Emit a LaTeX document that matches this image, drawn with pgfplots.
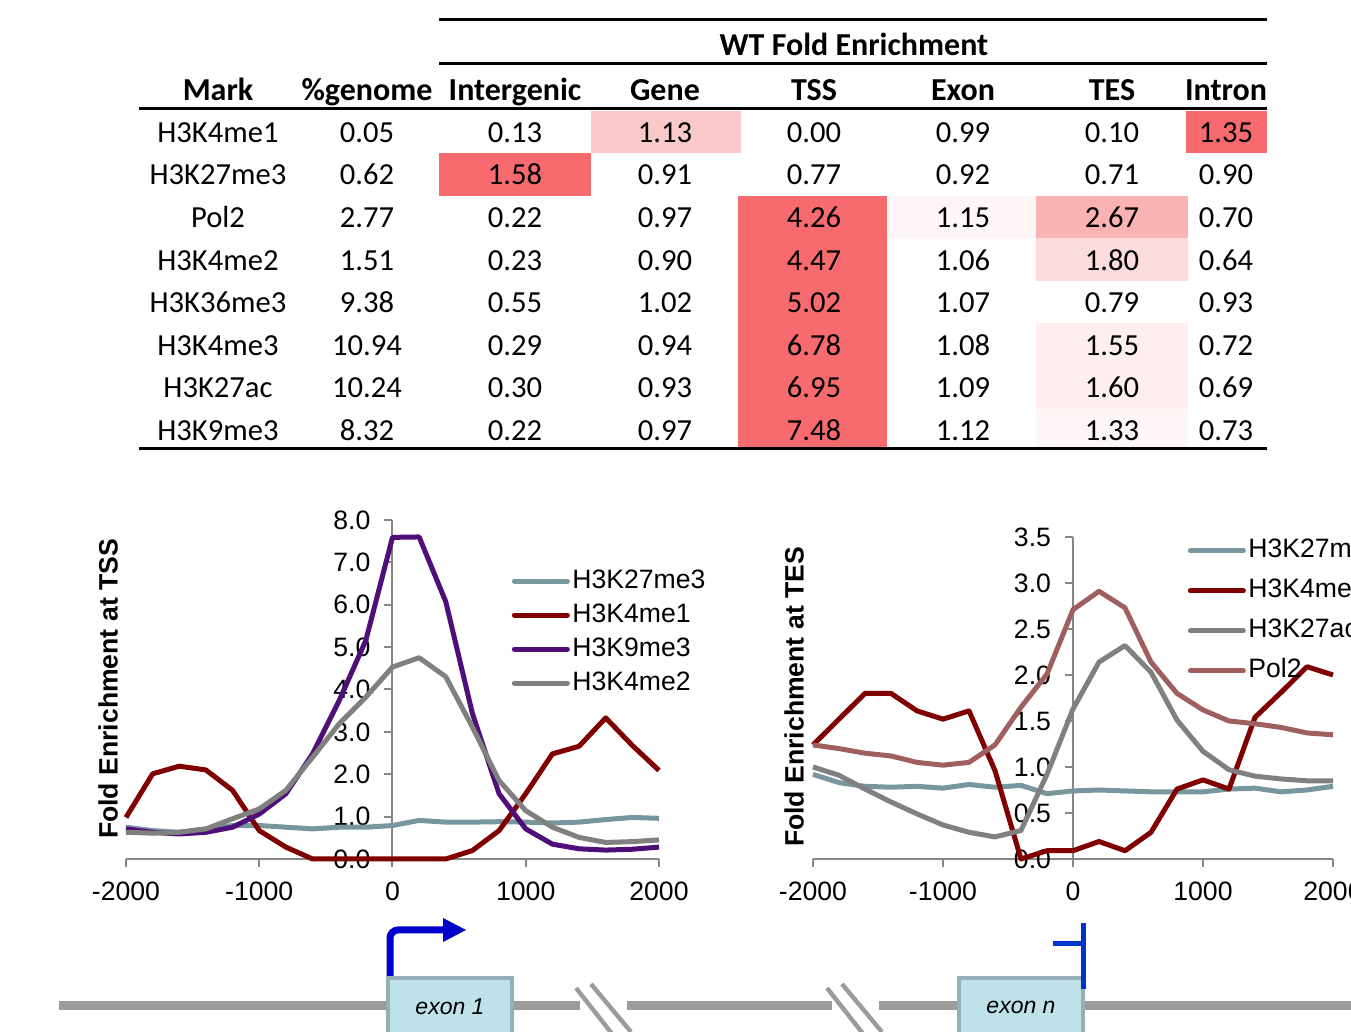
\documentclass[border=0pt]{standalone}
\usepackage{fontspec}
\setmainfont{Carlito}
\newfontfamily\arial{Liberation Sans}
\usepackage{pgfplots}
\pgfplotsset{compat=1.18}
\definecolor{hot}{RGB}{247,106,110}
\definecolor{pinkA}{RGB}{249,200,200}
\definecolor{pinkB}{RGB}{250,178,178}
\definecolor{pinkC}{RGB}{252,220,220}
\definecolor{pinkD}{RGB}{254,238,238}
\definecolor{pinkE}{RGB}{254,246,246}
\definecolor{axgray}{RGB}{134,134,134}
\definecolor{cK27me3}{RGB}{120,150,157}
\definecolor{cK4me1}{RGB}{128,0,0}
\definecolor{cK9me3}{RGB}{80,15,120}
\definecolor{cGray}{RGB}{128,128,128}
\definecolor{cPol}{RGB}{160,95,95}
\definecolor{genegray}{RGB}{155,155,155}
\definecolor{exonfill}{RGB}{191,225,233}
\definecolor{exonline}{RGB}{150,175,182}
\definecolor{tssblue}{RGB}{0,0,204}
\definecolor{tesblue}{RGB}{0,51,204}
\newcommand\chartfont{\arial\fontsize{13.3}{15}\selectfont}
\newcommand\tabfont{\fontsize{15.3}{18}\selectfont}
\newcommand\headfont{\bfseries\fontsize{16}{19}\selectfont}
\newcommand\trow[9]{%
  \node[anchor=base,font=\tabfont] at (218,#1) {#2};
  \node[anchor=base,font=\tabfont] at (367,#1) {#3};
  \node[anchor=base,font=\tabfont] at (515,#1) {#4};
  \node[anchor=base,font=\tabfont] at (665,#1) {#5};
  \node[anchor=base,font=\tabfont] at (814,#1) {#6};
  \node[anchor=base,font=\tabfont] at (963,#1) {#7};
  \node[anchor=base,font=\tabfont] at (1112,#1) {#8};
  \node[anchor=base,font=\tabfont] at (1226,#1) {#9};}
\pgfplotsset{
  chart/.style={
    scale only axis,
    axis y line=middle, axis x line=bottom,
    x axis line style={-}, y axis line style={-},
    axis line style={-, draw=axgray, line width=1pt},
    hide obscured y ticks=false, hide obscured x ticks=false,
    xmin=-2000, xmax=2000, ymin=0,
    xtick={-2000,-1000,0,1000,2000},
    xticklabels={-2000,-1000,0,1000,2000},
    tick align=outside, major tick length=4pt,
    tick style={draw=axgray, line width=1pt},
    ticklabel style={font=\chartfont},
    xticklabel style={yshift=-4pt},
    yticklabel style={xshift=-3.5pt},
    clip=false,
    legend cell align=left,
    legend image code/.code={\draw[##1, line width=2.5pt, line cap=round] (0pt,0pt) -- (26.5pt,0pt);},
    every axis plot/.append style={line width=2.5pt, line join=round, no markers},
  }
}
\begin{document}
\begin{tikzpicture}[x=0.5pt,y=0.5pt]
\clip (0,0) rectangle (1351,1032);
\path[use as bounding box] (0,0) rectangle (1351,1032);
% ---------- table cell shading
\fill[pinkA] (591,879) rectangle (741,921);
\fill[hot] (1186,879) rectangle (1267,921);
\fill[hot] (439,836) rectangle (591,879);
\fill[hot] (738,583) rectangle (887,836);
\fill[pinkE] (887,794) rectangle (1036,836);
\fill[pinkB] (1036,794) rectangle (1188,836);
\fill[pinkC] (1036,751) rectangle (1188,794);
\fill[pinkD] (1036,623) rectangle (1188,709);
\fill[pinkE] (1036,583) rectangle (1188,623);
% ---------- table rules
\draw[line width=1.5pt] (439,1012) -- (1267,1012);
\draw[line width=1.5pt] (439,968) -- (1267,968);
\draw[line width=1.5pt] (139,923) -- (1267,923);
\draw[line width=1.5pt] (139,583) -- (1267,583);
% ---------- table text
\node[anchor=base,font=\headfont] at (854,976) {WT Fold Enrichment};
\node[anchor=base,font=\headfont] at (218,931) {Mark};
\node[anchor=base,font=\headfont] at (367,931) {\%genome};
\node[anchor=base,font=\headfont] at (515,931) {Intergenic};
\node[anchor=base,font=\headfont] at (665,931) {Gene};
\node[anchor=base,font=\headfont] at (814,931) {TSS};
\node[anchor=base,font=\headfont] at (963,931) {Exon};
\node[anchor=base,font=\headfont] at (1112,931) {TES};
\node[anchor=base,font=\headfont] at (1226,931) {Intron};
\trow{889.5}{H3K4me1}{0.05}{0.13}{1.13}{0.00}{0.99}{0.10}{1.35}
\trow{847.5}{H3K27me3}{0.62}{1.58}{0.91}{0.77}{0.92}{0.71}{0.90}
\trow{804.5}{Pol2}{2.77}{0.22}{0.97}{4.26}{1.15}{2.67}{0.70}
\trow{761.5}{H3K4me2}{1.51}{0.23}{0.90}{4.47}{1.06}{1.80}{0.64}
\trow{719.5}{H3K36me3}{9.38}{0.55}{1.02}{5.02}{1.07}{0.79}{0.93}
\trow{676.5}{H3K4me3}{10.94}{0.29}{0.94}{6.78}{1.08}{1.55}{0.72}
\trow{634.5}{H3K27ac}{10.24}{0.30}{0.93}{6.95}{1.09}{1.60}{0.69}
\trow{591.5}{H3K9me3}{8.32}{0.22}{0.97}{7.48}{1.12}{1.33}{0.73}
% ---------- left chart (TSS)
\begin{scope}[shift={(126,173)}]
\begin{axis}[chart,
  at={(0,0)}, anchor=south west,
  width=266.5pt, height=169.5pt,
  ymax=8,
  ytick={0,1,2,3,4,5,6,7,8},
  yticklabels={0.0,1.0,2.0,3.0,4.0,5.0,6.0,7.0,8.0},
  legend style={at={(axis description cs:0.7232,0.864)}, anchor=north west,
    draw=none, fill=none, inner sep=0pt, row sep=2.5pt,
    font=\chartfont,
    nodes={inner sep=1.25pt, text height=9.5pt, text depth=2.5pt}},
]
\addplot[cK27me3] coordinates {(-2000,0.75)(-1800,0.67)(-1600,0.63)(-1400,0.71)(-1200,0.79)(-1000,0.79)(-800,0.75)(-600,0.71)(-400,0.75)(-200,0.75)(0,0.79)(200,0.91)(400,0.87)(600,0.87)(800,0.88)(1000,0.87)(1200,0.85)(1400,0.87)(1600,0.93)(1800,0.98)(2000,0.96)};
\addlegendentry{H3K27me3}
\addplot[cK4me1] coordinates {(-2000,0.98)(-1800,2.01)(-1600,2.19)(-1400,2.10)(-1200,1.62)(-1000,0.67)(-800,0.28)(-600,0.0)(-400,0.0)(-200,0.0)(0,0.0)(200,0.0)(400,0.0)(600,0.20)(800,0.67)(1000,1.54)(1200,2.48)(1400,2.66)(1600,3.33)(1800,2.68)(2000,2.09)};
\addlegendentry{H3K4me1}
\addplot[cK9me3] coordinates {(-2000,0.71)(-1800,0.63)(-1600,0.59)(-1400,0.63)(-1200,0.75)(-1000,1.06)(-800,1.54)(-600,2.48)(-400,3.74)(-200,5.16)(0,7.59)(200,7.60)(400,6.07)(600,3.43)(800,1.54)(1000,0.71)(1200,0.35)(1400,0.24)(1600,0.21)(1800,0.23)(2000,0.28)};
\addlegendentry{H3K9me3}
\addplot[cGray] coordinates {(-2000,0.63)(-1800,0.61)(-1600,0.63)(-1400,0.71)(-1200,0.95)(-1000,1.18)(-800,1.62)(-600,2.40)(-400,3.19)(-200,3.82)(0,4.53)(200,4.75)(400,4.30)(600,3.11)(800,1.85)(1000,1.14)(1200,0.75)(1400,0.51)(1600,0.39)(1800,0.41)(2000,0.45)};
\addlegendentry{H3K4me2}
\end{axis}
\end{scope}
% ---------- right chart (TES)
\begin{scope}[shift={(813,173)}]
\begin{axis}[chart,
  at={(0,0)}, anchor=south west,
  width=260pt, height=161pt,
  ymax=3.5,
  ytick={0,0.5,1,1.5,2,2.5,3,3.5},
  yticklabels={0.0,0.5,1.0,1.5,2.0,2.5,3.0,3.5},
  legend style={at={(axis description cs:0.7202,1.003)}, anchor=north west,
    draw=none, fill=none, inner sep=0pt, row sep=5.5pt,
    font=\chartfont,
    nodes={inner sep=1.25pt, text height=9.5pt, text depth=2.5pt}},
]
\addplot[cK27me3] coordinates {(-2000,0.92)(-1800,0.83)(-1600,0.79)(-1400,0.78)(-1200,0.79)(-1000,0.77)(-800,0.81)(-600,0.78)(-400,0.80)(-200,0.71)(0,0.74)(200,0.75)(400,0.74)(600,0.73)(800,0.73)(1000,0.73)(1200,0.76)(1400,0.77)(1600,0.73)(1800,0.75)(2000,0.79)};
\addlegendentry{H3K27me3}
\addplot[cK4me1] coordinates {(-2000,1.24)(-1800,1.52)(-1600,1.80)(-1400,1.80)(-1200,1.61)(-1000,1.52)(-800,1.61)(-600,0.96)(-400,0.0)(-200,0.09)(0,0.09)(200,0.19)(400,0.09)(600,0.29)(800,0.76)(1000,0.86)(1200,0.76)(1400,1.54)(1600,1.81)(1800,2.09)(2000,2.00)};
\addlegendentry{H3K4me1}
\addplot[cGray] coordinates {(-2000,1.00)(-1800,0.91)(-1600,0.76)(-1400,0.62)(-1200,0.49)(-1000,0.37)(-800,0.29)(-600,0.24)(-400,0.31)(-200,0.92)(0,1.63)(200,2.14)(400,2.32)(600,2.03)(800,1.51)(1000,1.17)(1200,0.97)(1400,0.90)(1600,0.87)(1800,0.85)(2000,0.85)};
\addlegendentry{H3K27ac}
\addplot[cPol] coordinates {(-2000,1.24)(-1800,1.20)(-1600,1.15)(-1400,1.12)(-1200,1.05)(-1000,1.02)(-800,1.05)(-600,1.24)(-400,1.65)(-200,2.01)(0,2.71)(200,2.91)(400,2.73)(600,2.14)(800,1.80)(1000,1.62)(1200,1.50)(1400,1.47)(1600,1.43)(1800,1.37)(2000,1.35)};
\addlegendentry{Pol2}
\end{axis}
\end{scope}
% ---------- y labels
\node[rotate=90, font=\arial\bfseries\fontsize{13.3}{15}\selectfont] at (108,343) {Fold Enrichment at TSS};
\node[rotate=90, font=\arial\bfseries\fontsize{13.3}{15}\selectfont] at (794,335) {Fold Enrichment at TES};
% ---------- gene diagram
\begin{scope}[genegray, line width=4.5pt]
\draw (59,26) -- (387,26);
\draw (512,26) -- (580,26);
\draw (627,26) -- (832,26);
\draw (879,26) -- (958,26);
\draw (1083,26) -- (1351,26);
\end{scope}
\begin{scope}[genegray, line width=2.2pt]
\draw (576,44) -- (613,-3);
\draw (591,48) -- (631,0);
\draw (827,44) -- (864,-3);
\draw (842,48) -- (882,0);
\end{scope}
\draw[fill=exonfill, draw=exonline, line width=2pt] (388,-10) rectangle (512,54);
\draw[fill=exonfill, draw=exonline, line width=2pt] (959,-10) rectangle (1083,54);
\node[font=\arial\itshape\fontsize{11.5}{13}\selectfont] at (450,25) {exon 1};
\node[font=\arial\itshape\fontsize{11.5}{13}\selectfont] at (1021,25) {exon n};
\draw[tssblue, line width=3.5pt, rounded corners=4pt] (390,56) -- (390,102) -- (445,102);
\fill[tssblue] (443,114) -- (443,90) -- (466,102) -- cycle;
\draw[tesblue, line width=2.5pt] (1083,43) -- (1083,109);
\draw[tesblue, line width=2.5pt] (1053,88) -- (1083,88);
\end{tikzpicture}
\end{document}
